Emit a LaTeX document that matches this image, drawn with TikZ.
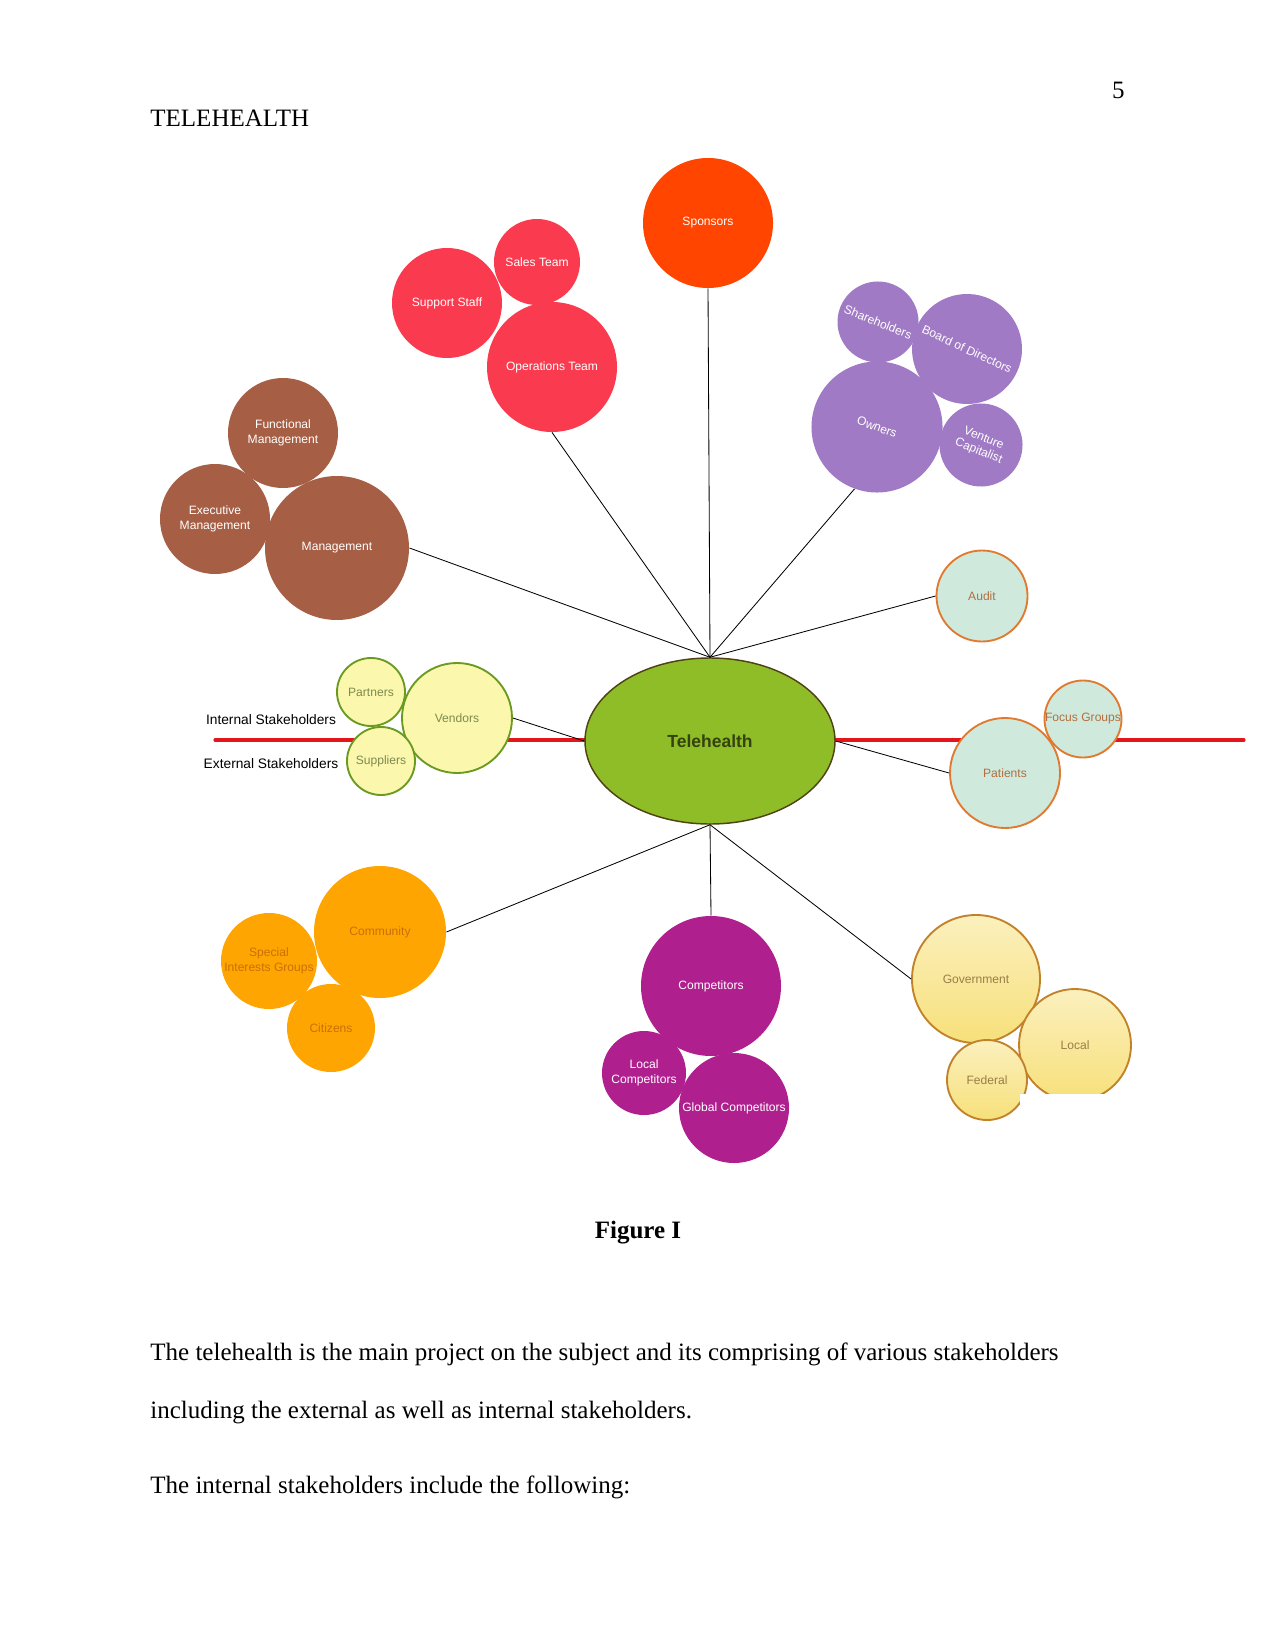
\documentclass[tikz,border=0pt]{standalone}
\usepackage{fontspec}
\setmainfont{Liberation Serif}
\setsansfont{Liberation Sans}
\usetikzlibrary{shapes.geometric}

\definecolor{sponsorRed}{HTML}{FF4500}
\definecolor{teamRed}{HTML}{FA3A4F}
\definecolor{mgmtBrown}{HTML}{A65E44}
\definecolor{ownerPurple}{HTML}{A07AC4}
\definecolor{mintFill}{HTML}{CFEADC}
\definecolor{mintLine}{HTML}{E07A30}
\definecolor{mintText}{HTML}{B36E40}
\definecolor{vendFill}{HTML}{FBF8AE}
\definecolor{vendLine}{HTML}{6B9A22}
\definecolor{vendText}{HTML}{7F8A4E}
\definecolor{teleFill}{HTML}{8FBD28}
\definecolor{teleLine}{HTML}{4F4214}
\definecolor{teleText}{HTML}{34420E}
\definecolor{commOrange}{HTML}{FFA502}
\definecolor{commText}{HTML}{C87008}
\definecolor{compMagenta}{HTML}{AF208E}
\definecolor{govTop}{HTML}{FBF0BE}
\definecolor{govBot}{HTML}{F7E07A}
\definecolor{govLine}{HTML}{C2822A}
\definecolor{govText}{HTML}{9A7E48}
\definecolor{divRed}{HTML}{E3171B}

\tikzset{
  bubble/.style={circle, inner sep=0pt, align=center, minimum size=0.96pt*#1,
    font=\fontsize{5.8}{7}\selectfont\sffamily},
  sponbub/.style={bubble=#1, fill=sponsorRed, text=white},
  redbub/.style={bubble=#1, fill=teamRed, text=white},
  brownbub/.style={bubble=#1, fill=mgmtBrown, text=white},
  purpbub/.style={bubble=#1, fill=ownerPurple, text=white},
  mintbub/.style={bubble=#1, fill=mintFill, draw=mintLine, line width=0.9pt, text=mintText},
  vendbub/.style={bubble=#1, fill=vendFill, draw=vendLine, line width=0.9pt, text=vendText},
  orangebub/.style={bubble=#1, fill=commOrange, text=commText},
  compbub/.style={bubble=#1, fill=compMagenta, text=white},
  govbub/.style={bubble=#1, top color=govTop, bottom color=govBot, draw=govLine,
    line width=0.9pt, text=govText},
  link/.style={draw=black, line width=0.4pt},
  bodytext/.style={anchor=base west, inner sep=0pt, font=\fontsize{12}{14}\selectfont},
  sidetext/.style={font=\fontsize{6.6}{8}\selectfont\sffamily},
}

\begin{document}
\begin{tikzpicture}[x=0.48pt, y=-0.48pt]
    \useasboundingbox (0,0) rectangle (1275,1650);

    % Page header
    \node[bodytext] (head) at (150,127) {TELEHEALTH};
    \node[bodytext, anchor=base east] (pagenum) at (1125,99) {5};

    % Divider between internal and external
    \coordinate (divL) at (215,740);
    \coordinate (divR) at (1244,740);
    \draw[divRed, line width=1.45pt, line cap=round] (divL) -- (divR);
    \node[sidetext] (internal) at (271,720) {Internal Stakeholders};
    \node[sidetext] (external) at (271,764) {External Stakeholders};

    % Centre
    \node[ellipse, minimum width=250*0.48pt, minimum height=166*0.48pt, fill=teleFill,
        draw=teleLine, line width=0.7pt, text=teleText,
        font=\fontsize{8.4}{10}\selectfont\sffamily\bfseries] (tele) at (710,741) {Telehealth};

    % Upper bubbles
    \node[sponbub=65] (sponsors) at (708,223) {Sponsors};
    \node[redbub=43] (sales) at (537,262) {Sales Team};
    \node[redbub=55] (support) at (447,303) {Support Staff};
    \node[redbub=65] (ops) at (552,367) {Operations Team};
    \node[brownbub=55] (func) at (283,433) {Functional\\Management};
    \node[brownbub=55] (exec) at (215,519) {Executive\\Management};
    \node[brownbub=72] (mgmt) at (337,548) {Management};
    \node[purpbub=40.5, rotate=-22] (share) at (878,322) {Shareholders};
    \node[purpbub=55, rotate=-25] (board) at (967,349) {Board of Directors};
    \node[purpbub=65.5, rotate=-20] (owners) at (877,427) {Owners};
    \node[purpbub=41.5, rotate=-22, font=\fontsize{5.8}{6.6}\selectfont\sffamily] (venture) at (981,445) {Venture\\Capitalist};
    \node[mintbub=45.5] (audit) at (982,596) {Audit};

    % Side bubbles
    \node[vendbub=34] (partners) at (371,692) {Partners};
    \node[vendbub=55] (vendors) at (457,718) {Vendors};
    \node[vendbub=34] (suppliers) at (381,761) {Suppliers};
    \node[mintbub=55] (patients) at (1005,773) {Patients};
    \node[mintbub=38.5] (focus) at (1083,719) {Focus Groups};

    % Lower bubbles
    \node[orangebub=66] (community) at (380,932) {Community};
    \node[orangebub=48] (special) at (269,961) {Special\\Interests Groups};
    \node[orangebub=44] (citizens) at (331,1028) {Citizens};
    \node[compbub=70] (comp) at (711,986) {Competitors};
    \node[compbub=42] (localcomp) at (644,1073) {Local\\Competitors};
    \node[compbub=55] (globalcomp) at (734,1108) {Global Competitors};
    \node[govbub=64] (gov) at (976,979) {Government};
    \node[govbub=56] (local) at (1075,1045) {Local};
    \node[govbub=40] (federal) at (987,1080) {Federal};
    \fill[white] (1020,1094) rectangle (1135,1130);

    % Connectors to the centre
    \draw[link] (mgmt.east) -- (tele.north);
    \draw[link] (ops.south) -- (tele.north);
    \draw[link] (sponsors.south) -- (tele.north);
    \draw[link] (owners.south) -- (tele.north);
    \draw[link] (audit.west) -- (tele.north);
    \draw[link] (vendors.east) -- (tele.west);
    \draw[link] (tele.east) -- (patients.west);
    \draw[link] (tele.south) -- (community.east);
    \draw[link] (tele.south) -- (comp.north);
    \draw[link] (tele.south) -- (gov.west);

    % Caption and text
    \node[bodytext, anchor=base, font=\fontsize{12}{14}\selectfont\bfseries] (caption) at (638,1238) {Figure I};
    \node[bodytext] (line1) at (150,1360) {The telehealth is the main project on the subject and its comprising of various stakeholders};
    \node[bodytext] (line2) at (150,1418) {including the external as well as internal stakeholders.};
    \node[bodytext] (line3) at (150,1493) {The internal stakeholders include the following:};
\end{tikzpicture}
\end{document}
